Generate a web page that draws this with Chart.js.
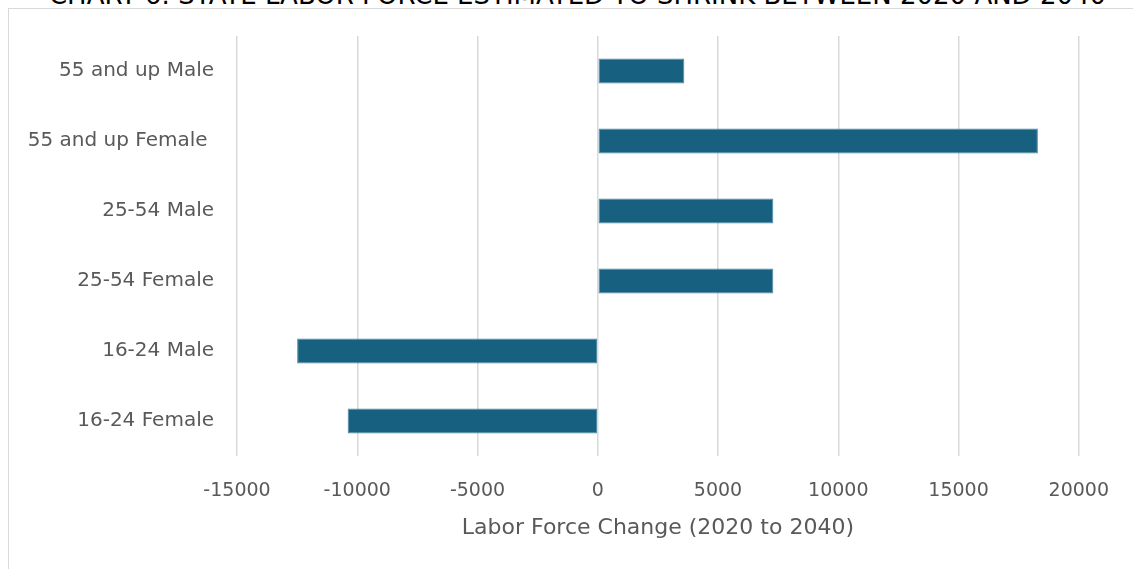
<!DOCTYPE html>
<html>
<head>
<meta charset="utf-8">
<script src="https://cdn.jsdelivr.net/npm/chart.js@4"></script>
<style>
    html, body { margin: 0; padding: 0; background: #fff; }
    body { width: 1133px; height: 569px; position: relative; overflow: hidden; font-family: "DejaVu Sans", sans-serif; }
    .frame { position: absolute; left: 8px; top: 8px; width: 1140px; height: 580px; border: 1px solid #d9d9d9; box-sizing: border-box; }
    .title { position: absolute; left: 0; width: 1155px; top: -20px; text-align: center; font-size: 26px; line-height: 30px; color: #000; white-space: nowrap; }
    #chart { position: absolute; left: 0; top: 0; }
</style>
</head>
<body>
<div class="frame"></div>
<div class="title">CHART 6: STATE LABOR FORCE ESTIMATED TO SHRINK BETWEEN 2020 AND 2040</div>
<canvas id="chart" width="1133" height="569"></canvas>
<script>
// categorias (de cima para baixo)
const categories = ['55 and up Male', '55 and up Female ', '25-54 Male', '25-54 Female', '16-24 Male', '16-24 Female'];
const laborChange = [3600, 18300, 7300, 7300, -12500, -10400];
const xTicks = [-15000, -10000, -5000, 0, 5000, 10000, 15000, 20000];

const textColor = '#595959';
const gridColor = '#d9d9d9';
const fontFamily = 'DejaVu Sans';

new Chart(document.getElementById('chart'), {
    type: 'bar',
    data: {
        labels: categories,
        datasets: [{
            data: laborChange,
            backgroundColor: '#17607f',
            borderColor: '#4f8aa6',
            borderWidth: 1,
            borderSkipped: false,
            barPercentage: 0.36,
            categoryPercentage: 1
        }]
    },
    options: {
        indexAxis: 'y',
        responsive: false,
        animation: false,
        layout: { padding: { top: 36, right: 53, bottom: 24, left: 0 } },
        plugins: { legend: { display: false }, tooltip: { enabled: false } },
        scales: {
            x: {
                min: xTicks[0],
                max: xTicks[xTicks.length - 1],
                afterBuildTicks: s => { s.ticks = xTicks.map(v => ({ value: v })); },
                afterFit: s => { s.height = 89; },
                grid: { color: gridColor, lineWidth: 1.5, drawTicks: false },
                border: { display: false },
                ticks: {
                    color: textColor,
                    font: { family: fontFamily, size: 19 },
                    padding: 24,
                    callback: v => String(v)
                },
                title: {
                    display: true,
                    text: 'Labor Force Change (2020 to 2040)',
                    color: textColor,
                    font: { family: fontFamily, size: 22 },
                    padding: { top: 6 }
                }
            },
            y: {
                afterFit: s => { s.width = 237; },
                grid: { display: false, drawTicks: false },
                border: { display: false },
                ticks: { color: textColor, font: { family: fontFamily, size: 20 }, padding: 23 }
            }
        }
    }
});
</script>
</body>
</html>
